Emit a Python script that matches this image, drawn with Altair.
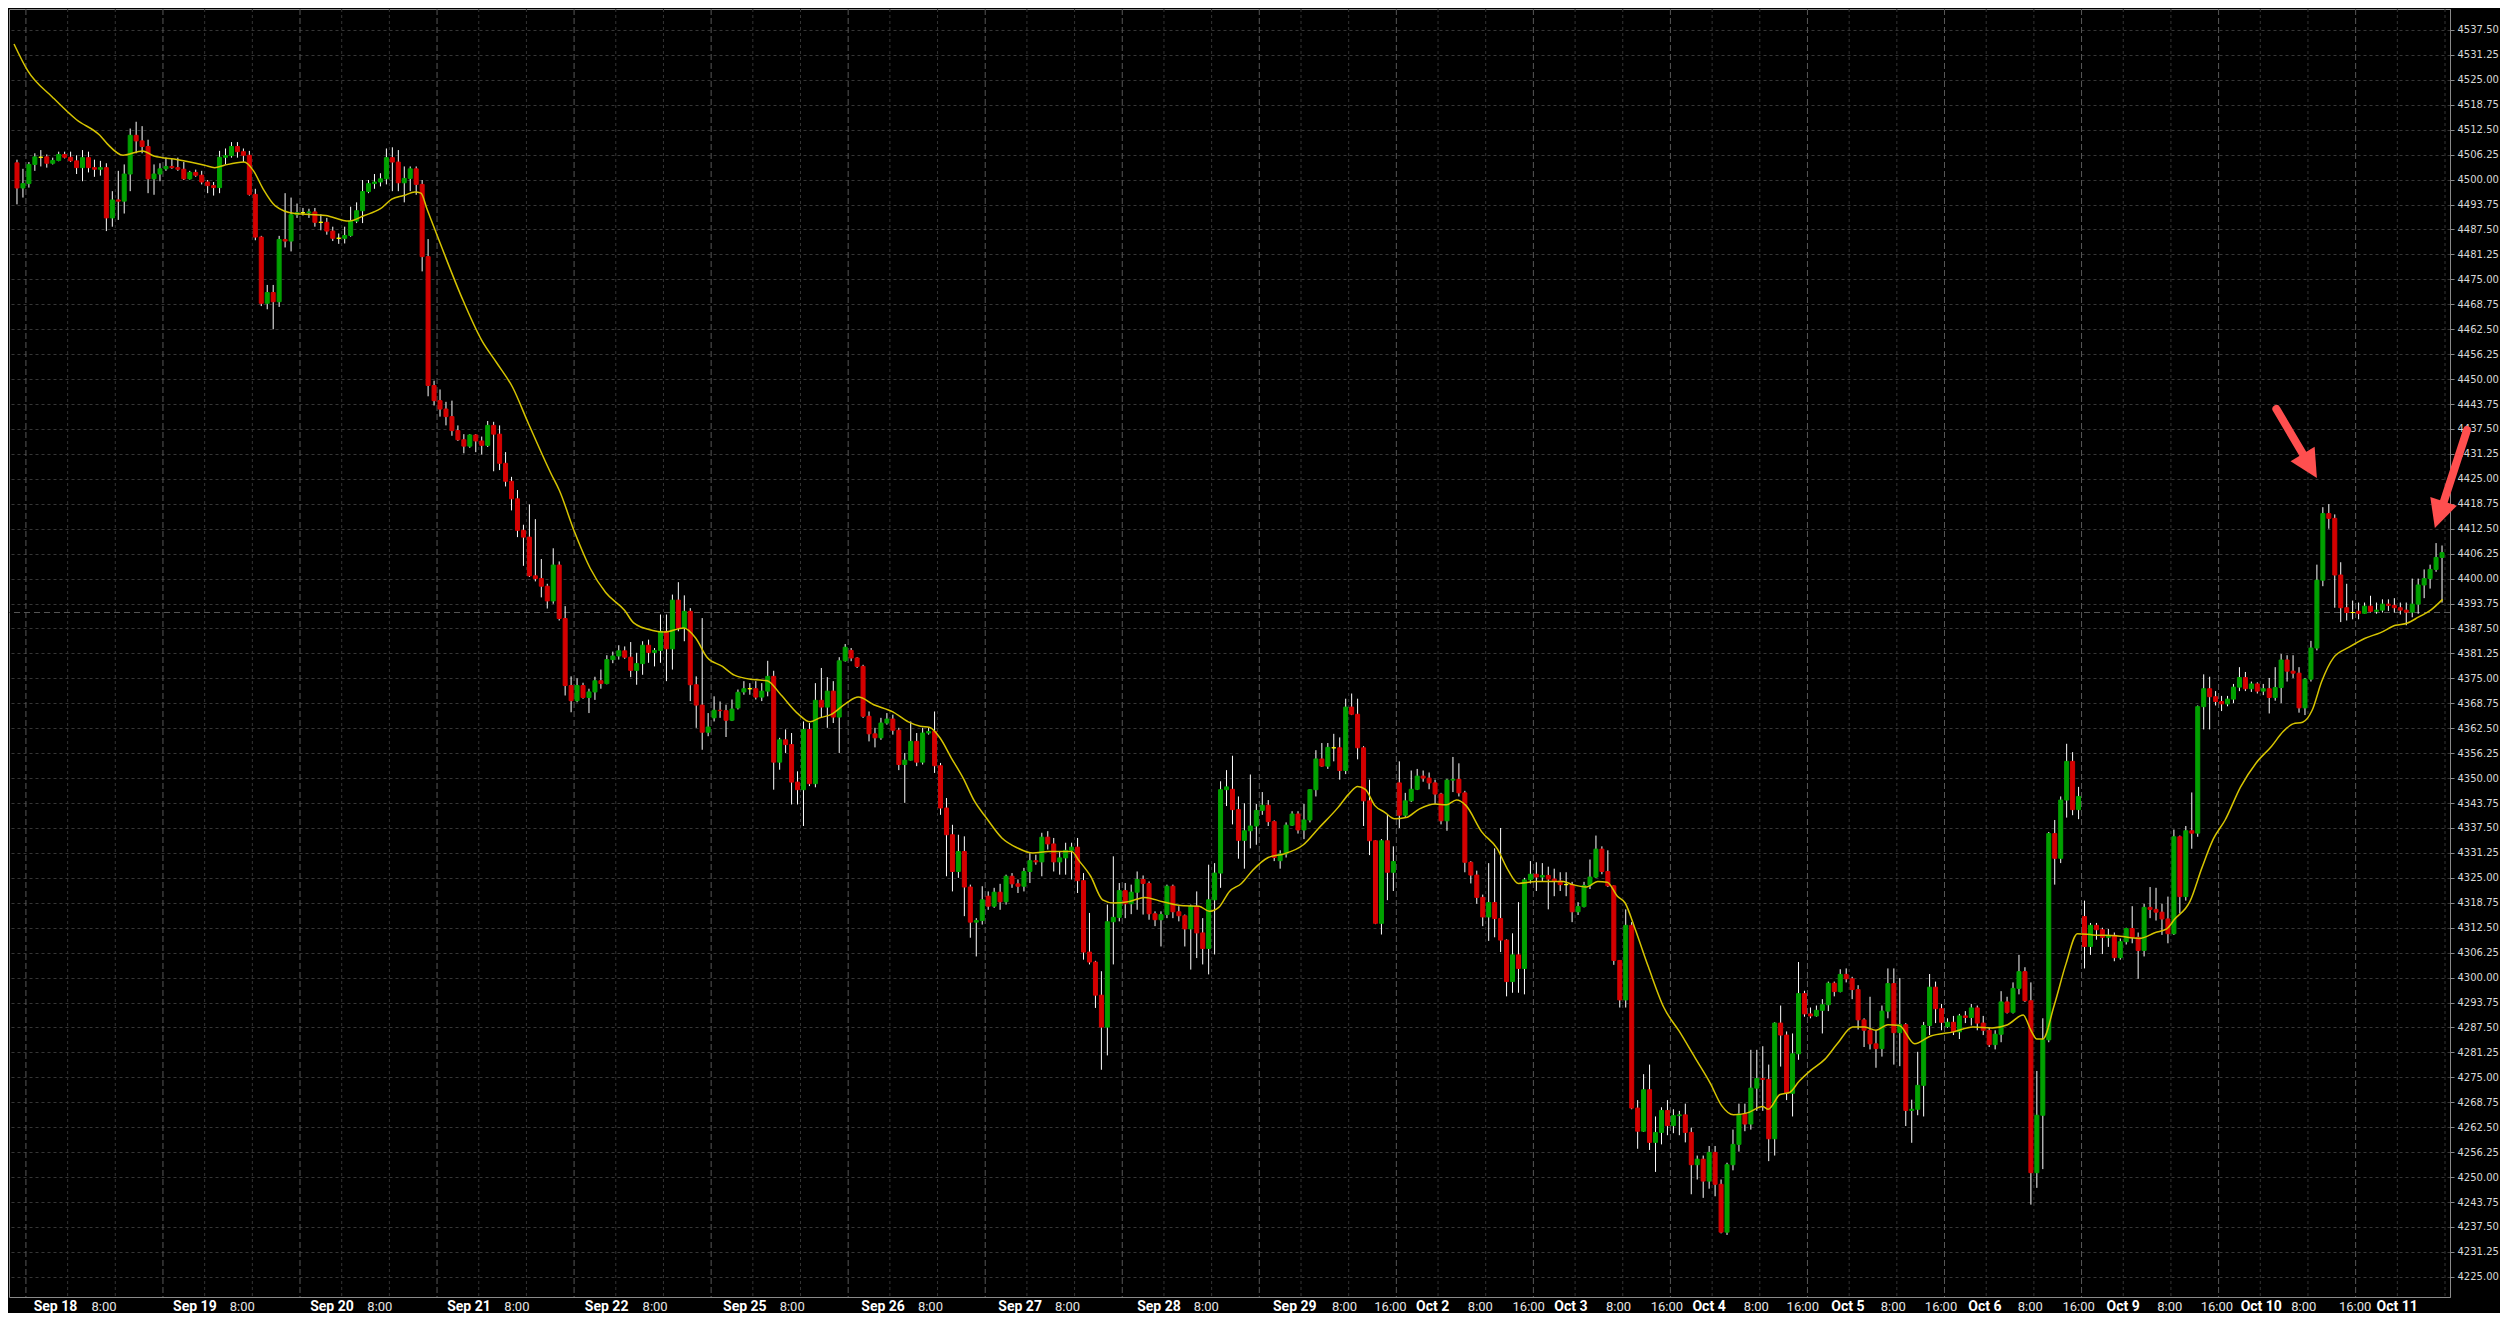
import altair as alt
import pandas as pd

# ---------------- data (hourly candles, index = candle slot) ----------------
OPEN = [
    4504.2, 4497.9, 4499.0, 4503.8, 4505.6, 4505.7, 4504.1, 4504.8, 4506.3, 4505.6,
    4504.7, 4503.0, 4505.5, 4503.0, 4502.6, 4503.0, 4490.4, 4494.9, 4494.6, 4501.4,
    4511.1, 4509.7, 4508.3, 4500.2, 4501.4, 4502.7, 4503.3, 4503.0, 4502.6, 4500.2,
    4501.8, 4501.1, 4499.4, 4498.5, 4498.0, 4505.6, 4506.0, 4508.3, 4507.0, 4506.1,
    4496.3, 4485.6, 4469.0, 4471.7, 4469.4, 4485.0, 4484.6, 4491.2, 4491.7, 4491.7,
    4491.9, 4489.3, 4489.3, 4487.1, 4485.3, 4485.3, 4486.0, 4489.6, 4492.2, 4497.0,
    4499.0, 4499.4, 4500.2, 4505.5, 4504.4, 4499.2, 4500.3, 4502.7, 4498.8, 4480.7,
    4448.4, 4444.6, 4442.5, 4440.6, 4437.1, 4434.8, 4433.2, 4436.0, 4434.5, 4433.4,
    4438.4, 4436.2, 4428.9, 4424.4, 4420.0, 4412.1, 4410.4, 4400.7, 4400.0, 4398.1,
    4394.4, 4403.4, 4390.0, 4373.2, 4369.4, 4373.2, 4370.2, 4371.6, 4374.4, 4373.7,
    4379.7, 4380.6,
    4381.9, 4380.3, 4377.0, 4378.7, 4383.3, 4381.5, 4382.0, 4386.8, 4382.4, 4394.6,
    4387.6, 4391.8, 4373.4, 4368.3, 4361.5, 4365.1, 4367.0, 4366.9, 4364.5, 4367.6,
    4371.6, 4372.4, 4372.4, 4370.3, 4371.8, 4375.5, 4354.0, 4359.6, 4358.4, 4349.0,
    4347.1, 4362.2, 4348.6, 4369.5, 4367.8, 4371.8, 4365.3, 4379.4, 4382.0, 4380.1,
    4378.0, 4365.5, 4361.1, 4360.1, 4363.8, 4364.8, 4362.0, 4353.4, 4354.5, 4359.2,
    4354.0, 4361.3, 4361.7, 4353.1, 4342.5, 4335.8, 4326.6, 4331.6, 4322.7, 4313.9,
    4314.3, 4320.4, 4317.9, 4321.4, 4319.0, 4325.4, 4323.5, 4322.9, 4326.6, 4329.3,
    4329.0, 4335.2, 4333.5, 4329.0, 4330.0, 4331.9, 4332.7, 4324.3, 4306.4, 4303.9,
    4295.6, 4287.6, 4314.0, 4315.1, 4321.8, 4318.5, 4321.4, 4324.6, 4323.6, 4316.0,
    4314.5, 4315.8, 4322.9, 4316.5, 4315.5, 4312.2, 4317.9, 4311.2, 4307.3, 4319.5,
    4326.2, 4347.1,
    4347.2, 4342.1, 4334.4, 4336.8, 4338.0, 4341.9, 4343.2, 4339.1, 4329.3, 4331.0,
    4338.2, 4341.0, 4337.0, 4339.5, 4347.1, 4354.8, 4353.0, 4357.6, 4357.6, 4351.9,
    4367.8, 4366.0, 4357.6, 4344.3, 4334.3, 4313.6, 4334.3, 4326.4, 4348.8, 4340.7,
    4344.3, 4347.2, 4350.5, 4350.0, 4348.8, 4346.0, 4339.3, 4349.5, 4349.7, 4346.3,
    4328.9, 4325.7, 4320.1, 4315.2, 4318.8, 4314.8, 4309.4, 4299.0, 4305.7, 4302.3,
    4324.5, 4325.9, 4325.2, 4325.6, 4324.7, 4324.2, 4323.3, 4323.3, 4316.5, 4317.8,
    4323.1, 4325.2, 4332.2, 4326.6, 4323.0, 4304.3, 4294.4, 4313.1, 4267.3, 4261.5,
    4271.9, 4258.7, 4261.2, 4266.7, 4262.9, 4265.4, 4265.6, 4261.2, 4253.1, 4254.5,
    4249.0, 4256.2, 4248.2, 4236.2, 4253.1, 4258.2, 4265.8, 4263.3, 4272.3, 4274.7,
    4274.5, 4259.6, 4288.6, 4285.6, 4271.0, 4280.9, 4296.0, 4290.9, 4290.4, 4291.8,
    4293.2, 4298.6,
    4296.5, 4300.8, 4299.7, 4297.0, 4289.4, 4286.8, 4283.4, 4282.2, 4291.6, 4298.5,
    4286.2, 4288.2, 4266.7, 4267.0, 4273.0, 4288.0, 4297.6, 4292.2, 4287.7, 4288.8,
    4286.4, 4290.4, 4290.0, 4292.4, 4288.6, 4286.8, 4283.2, 4285.8, 4293.9, 4291.3,
    4297.3, 4301.5, 4294.2, 4251.1, 4265.5, 4284.4, 4336.1, 4329.9, 4344.5, 4354.2,
    4342.1, 4315.3, 4307.8, 4313.1, 4312.0, 4310.1, 4310.6, 4305.0, 4309.0, 4312.3,
    4310.1, 4306.8, 4317.6, 4317.1, 4316.4, 4314.7, 4311.0, 4335.3, 4320.3, 4336.8,
    4336.2, 4367.9, 4372.4, 4370.4, 4369.2, 4368.6, 4369.8, 4372.8, 4375.2, 4372.4,
    4373.6, 4371.8, 4372.4, 4370.2, 4372.7, 4379.6, 4376.8, 4376.3, 4367.6, 4374.8,
    4382.6, 4399.6, 4416.3, 4415.1, 4400.9, 4392.7, 4391.5, 4391.8, 4391.3, 4393.1,
    4391.8, 4392.1, 4393.6, 4393.3, 4392.7, 4392.1, 4391.6, 4393.6, 4398.4, 4400.0,
    4402.3, 4405.3,
]

CLOSE = [
    4497.9, 4499.0, 4503.8, 4505.7, 4505.6, 4504.1, 4504.8, 4506.3, 4505.6, 4504.7,
    4503.0, 4505.5, 4503.0, 4502.6, 4503.0, 4490.4, 4494.9, 4494.6, 4501.4, 4511.1,
    4509.7, 4508.3, 4500.2, 4501.4, 4502.7, 4503.3, 4503.0, 4502.6, 4500.2, 4501.8,
    4501.1, 4499.4, 4498.5, 4498.0, 4505.6, 4506.0, 4508.3, 4507.0, 4506.1, 4496.3,
    4485.6, 4469.0, 4471.7, 4469.4, 4485.0, 4484.6, 4491.2, 4491.7, 4491.7, 4491.9,
    4489.3, 4489.3, 4487.1, 4485.3, 4485.3, 4486.0, 4489.6, 4492.2, 4497.0, 4499.0,
    4499.4, 4500.2, 4505.5, 4504.4, 4499.2, 4500.3, 4502.7, 4498.8, 4480.7, 4448.4,
    4444.6, 4442.5, 4440.6, 4437.1, 4434.8, 4433.2, 4436.0, 4434.5, 4433.4, 4438.4,
    4436.2, 4428.9, 4424.4, 4420.0, 4412.1, 4410.4, 4400.7, 4400.0, 4398.1, 4394.4,
    4403.4, 4390.0, 4373.2, 4369.4, 4373.2, 4370.2, 4371.6, 4374.4, 4373.7, 4379.7,
    4380.6, 4381.9,
    4380.3, 4377.0, 4378.7, 4383.3, 4381.5, 4382.0, 4386.8, 4382.4, 4394.6, 4387.6,
    4391.8, 4373.4, 4368.3, 4361.5, 4362.8, 4367.0, 4366.9, 4364.5, 4367.3, 4371.5,
    4372.4, 4372.4, 4370.3, 4371.8, 4375.5, 4354.0, 4359.6, 4358.4, 4349.0, 4347.1,
    4362.2, 4348.6, 4369.5, 4367.8, 4371.8, 4365.3, 4379.4, 4382.8, 4380.1, 4378.0,
    4365.5, 4361.1, 4360.1, 4363.8, 4364.8, 4362.0, 4353.4, 4354.5, 4359.2, 4354.0,
    4361.3, 4361.7, 4353.1, 4342.5, 4335.8, 4326.6, 4331.6, 4322.7, 4313.9, 4314.3,
    4319.5, 4317.9, 4321.4, 4319.0, 4325.4, 4323.5, 4322.9, 4326.6, 4329.3, 4329.0,
    4335.2, 4333.5, 4329.0, 4330.0, 4331.9, 4332.7, 4324.3, 4306.4, 4303.9, 4295.6,
    4287.6, 4314.0, 4315.1, 4321.8, 4318.5, 4321.4, 4324.6, 4323.6, 4316.0, 4314.5,
    4315.8, 4322.9, 4316.5, 4315.5, 4312.2, 4317.9, 4311.2, 4307.3, 4319.5, 4326.2,
    4347.1, 4347.8,
    4342.1, 4334.4, 4336.8, 4338.0, 4341.9, 4343.2, 4339.1, 4330.1, 4331.0, 4338.2,
    4341.0, 4337.0, 4339.5, 4347.1, 4354.8, 4353.0, 4357.7, 4357.6, 4351.9, 4367.8,
    4366.0, 4357.6, 4344.3, 4334.3, 4313.6, 4334.3, 4326.4, 4329.1, 4340.7, 4344.3,
    4347.2, 4350.5, 4350.0, 4348.8, 4346.0, 4339.3, 4349.5, 4349.7, 4346.3, 4328.9,
    4325.7, 4320.1, 4315.2, 4318.8, 4314.8, 4309.4, 4299.0, 4305.7, 4302.3, 4324.5,
    4325.9, 4325.2, 4325.6, 4324.7, 4324.2, 4323.3, 4323.3, 4316.5, 4317.8, 4323.1,
    4325.2, 4332.2, 4326.6, 4323.0, 4304.3, 4294.4, 4313.1, 4267.3, 4261.5, 4271.9,
    4258.7, 4261.2, 4266.7, 4262.9, 4265.4, 4265.6, 4261.2, 4253.1, 4254.5, 4249.0,
    4256.2, 4248.2, 4236.2, 4253.1, 4258.2, 4265.8, 4263.3, 4272.3, 4274.7, 4274.5,
    4259.6, 4288.6, 4285.6, 4271.0, 4280.9, 4296.0, 4290.9, 4290.4, 4291.8, 4293.2,
    4298.6, 4296.5,
    4300.8, 4299.7, 4297.0, 4289.4, 4286.8, 4283.4, 4282.2, 4291.6, 4298.5, 4286.2,
    4288.2, 4266.7, 4267.0, 4273.0, 4288.0, 4297.6, 4292.2, 4288.8, 4288.8, 4286.4,
    4290.4, 4290.0, 4292.4, 4288.6, 4286.8, 4283.2, 4285.8, 4293.9, 4291.3, 4297.3,
    4301.5, 4294.2, 4251.1, 4265.5, 4284.4, 4336.1, 4329.9, 4344.5, 4354.2, 4342.1,
    4345.4, 4307.8, 4313.1, 4312.0, 4310.1, 4310.6, 4305.0, 4309.0, 4312.3, 4310.1,
    4306.8, 4317.6, 4317.1, 4316.4, 4314.7, 4311.0, 4335.3, 4320.3, 4336.8, 4336.2,
    4367.9, 4372.4, 4370.4, 4369.2, 4368.6, 4369.8, 4372.8, 4375.2, 4372.4, 4373.6,
    4371.8, 4372.4, 4370.2, 4372.7, 4379.6, 4376.8, 4376.3, 4367.6, 4374.8, 4382.6,
    4399.6, 4416.3, 4415.1, 4400.9, 4392.7, 4391.5, 4391.5, 4391.3, 4393.1, 4391.8,
    4392.1, 4393.6, 4393.3, 4392.7, 4392.1, 4391.6, 4393.6, 4398.4, 4400.0, 4402.3,
    4405.3, 4406.5,
]

HIGH = [
    4505.0, 4502.7, 4504.4, 4506.6, 4507.4, 4506.3, 4505.5, 4507.0, 4507.0, 4507.0,
    4506.1, 4507.4, 4507.0, 4505.0, 4504.7, 4504.1, 4497.1, 4502.2, 4503.8, 4512.8,
    4514.5, 4513.4, 4510.0, 4503.8, 4504.1, 4505.5, 4505.2, 4505.5, 4504.4, 4502.2,
    4502.5, 4502.2, 4499.9, 4499.4, 4507.2, 4507.8, 4509.4, 4509.4, 4507.8, 4507.2,
    4497.7, 4485.9, 4473.6, 4473.6, 4485.9, 4496.6, 4495.5, 4494.0, 4492.9, 4492.7,
    4492.9, 4491.3, 4490.4, 4488.2, 4486.5, 4488.2, 4493.2, 4494.3, 4499.9, 4499.9,
    4501.4, 4501.6, 4507.8, 4508.1, 4507.4, 4503.3, 4503.3, 4503.3, 4499.9, 4485.1,
    4449.6, 4447.4, 4444.3, 4444.6, 4438.4, 4436.2, 4436.2, 4436.2, 4435.6, 4439.5,
    4439.3, 4438.4, 4431.7, 4425.5, 4422.2, 4413.5, 4418.6, 4414.9, 4404.9, 4398.7,
    4407.6, 4404.3, 4393.1, 4375.5, 4375.0, 4373.9, 4372.4, 4375.4, 4377.2, 4380.8,
    4381.7, 4383.3,
    4383.0, 4384.1, 4381.4, 4384.3, 4384.7, 4382.6, 4391.0, 4391.0, 4396.0, 4399.1,
    4395.8, 4392.6, 4375.5, 4390.1, 4366.3, 4370.5, 4369.2, 4368.4, 4369.7, 4372.2,
    4374.3, 4373.8, 4374.3, 4373.8, 4379.4, 4376.9, 4360.1, 4362.2, 4361.3, 4351.7,
    4364.2, 4363.8, 4373.8, 4377.6, 4375.3, 4374.3, 4380.3, 4383.6, 4382.6, 4380.3,
    4378.4, 4366.7, 4362.6, 4365.1, 4366.3, 4365.9, 4362.6, 4356.3, 4364.2, 4361.3,
    4362.6, 4362.6, 4366.7, 4353.8, 4345.0, 4338.3, 4335.8, 4335.4, 4323.3, 4314.9,
    4322.9, 4321.6, 4322.5, 4323.5, 4325.8, 4326.2, 4324.6, 4327.5, 4331.2, 4330.8,
    4336.3, 4336.7, 4335.0, 4331.7, 4333.8, 4333.8, 4335.0, 4326.2, 4316.2, 4304.2,
    4301.6, 4318.3, 4330.4, 4323.7, 4323.7, 4323.3, 4326.6, 4325.6, 4324.1, 4316.6,
    4316.6, 4323.3, 4323.3, 4317.9, 4315.8, 4318.3, 4321.6, 4314.9, 4328.3, 4328.7,
    4349.2, 4352.0,
    4355.6, 4345.4, 4343.7, 4350.9, 4343.5, 4346.5, 4344.5, 4339.4, 4331.9, 4338.9,
    4341.7, 4341.7, 4343.5, 4347.2, 4357.0, 4358.8, 4358.8, 4361.1, 4360.2, 4369.9,
    4371.2, 4369.9, 4358.0, 4349.6, 4334.4, 4334.7, 4340.8, 4332.9, 4354.2, 4346.3,
    4351.9, 4352.3, 4351.9, 4351.4, 4349.6, 4346.3, 4349.8, 4355.3, 4353.7, 4346.8,
    4329.2, 4326.8, 4320.8, 4328.7, 4332.4, 4337.5, 4309.6, 4311.1, 4318.9, 4325.0,
    4329.2, 4328.9, 4328.7, 4327.8, 4327.3, 4326.4, 4326.4, 4324.0, 4318.9, 4324.0,
    4329.6, 4335.6, 4332.9, 4331.9, 4323.1, 4304.4, 4317.1, 4313.9, 4269.3, 4275.8,
    4278.2, 4265.2, 4267.5, 4269.3, 4267.0, 4266.6, 4268.4, 4262.4, 4255.4, 4255.4,
    4257.8, 4257.8, 4249.4, 4253.6, 4261.9, 4268.4, 4268.4, 4281.9, 4281.9, 4282.8,
    4278.2, 4288.8, 4293.0, 4286.5, 4286.0, 4303.9, 4296.7, 4292.5, 4293.0, 4294.6,
    4299.0, 4299.0,
    4302.1, 4302.3, 4300.2, 4298.1, 4289.8, 4295.2, 4286.8, 4293.0, 4302.3, 4302.3,
    4299.9, 4288.6, 4269.4, 4281.4, 4288.9, 4300.9, 4299.0, 4293.4, 4289.8, 4290.4,
    4290.9, 4291.6, 4293.4, 4293.0, 4290.4, 4287.4, 4286.8, 4296.6, 4295.2, 4298.8,
    4305.7, 4302.6, 4298.8, 4276.6, 4289.8, 4336.5, 4339.5, 4345.4, 4358.6, 4356.5,
    4347.8, 4319.3, 4313.7, 4313.7, 4312.5, 4312.2, 4311.3, 4309.8, 4312.5, 4317.9,
    4311.3, 4318.5, 4322.7, 4322.5, 4318.5, 4320.3, 4337.1, 4335.6, 4338.0, 4346.4,
    4368.2, 4376.0, 4375.4, 4371.8, 4370.6, 4370.6, 4373.6, 4377.8, 4376.6, 4374.2,
    4374.0, 4373.6, 4375.1, 4377.8, 4381.1, 4380.8, 4380.8, 4377.8, 4375.1, 4384.4,
    4403.5, 4417.9, 4418.7, 4416.1, 4404.1, 4398.7, 4394.5, 4394.0, 4394.0, 4395.7,
    4394.0, 4394.8, 4394.8, 4395.1, 4394.0, 4394.0, 4400.0, 4400.0, 4402.3, 4403.5,
    4408.9, 4408.3,
]

LOW = [
    4493.8, 4495.5, 4498.0, 4502.2, 4503.3, 4503.0, 4503.8, 4504.6, 4505.3, 4504.4,
    4501.4, 4499.6, 4501.8, 4500.7, 4501.0, 4487.1, 4488.2, 4489.9, 4491.5, 4497.1,
    4506.6, 4506.6, 4496.6, 4496.2, 4499.6, 4502.2, 4502.7, 4502.2, 4499.9, 4500.0,
    4500.7, 4498.8, 4496.6, 4496.0, 4496.6, 4503.8, 4505.5, 4505.5, 4504.4, 4496.0,
    4484.8, 4468.3, 4467.5, 4462.5, 4468.1, 4483.0, 4482.0, 4490.4, 4491.0, 4490.4,
    4488.2, 4487.3, 4486.2, 4484.6, 4483.9, 4484.0, 4485.7, 4489.1, 4489.1, 4496.6,
    4497.7, 4498.3, 4498.8, 4497.1, 4497.1, 4494.3, 4497.1, 4496.2, 4477.0, 4445.7,
    4443.4, 4440.6, 4438.4, 4435.8, 4434.5, 4431.4, 4432.8, 4431.7, 4431.1, 4433.0,
    4426.9, 4427.2, 4423.1, 4417.1, 4410.4, 4403.2, 4400.4, 4399.3, 4395.3, 4392.5,
    4393.7, 4389.5, 4370.7, 4366.5, 4369.0, 4369.9, 4366.3, 4369.6, 4372.4, 4373.5,
    4378.8, 4379.7,
    4379.9, 4375.3, 4373.4, 4375.9, 4378.9, 4378.0, 4378.9, 4374.3, 4377.2, 4386.8,
    4384.3, 4369.3, 4362.6, 4357.1, 4360.5, 4364.2, 4365.1, 4360.3, 4364.3, 4367.2,
    4370.9, 4370.9, 4369.7, 4369.3, 4370.5, 4347.1, 4352.1, 4356.3, 4343.4, 4343.4,
    4338.0, 4348.0, 4347.7, 4365.1, 4362.6, 4363.8, 4356.3, 4379.2, 4379.3, 4377.6,
    4365.1, 4359.2, 4357.7, 4359.6, 4363.4, 4360.9, 4352.0, 4343.8, 4354.4, 4353.0,
    4353.4, 4360.9, 4351.3, 4340.8, 4325.4, 4321.6, 4325.0, 4315.4, 4310.0, 4305.3,
    4313.3, 4317.0, 4317.5, 4317.0, 4318.3, 4322.5, 4321.2, 4321.6, 4323.7, 4328.3,
    4325.4, 4332.1, 4326.6, 4325.8, 4325.8, 4324.6, 4321.2, 4304.5, 4303.3, 4292.4,
    4276.9, 4280.5, 4303.3, 4314.1, 4314.9, 4315.9, 4317.0, 4315.8, 4314.5, 4312.9,
    4307.8, 4314.9, 4314.9, 4314.1, 4307.8, 4302.0, 4304.9, 4303.3, 4300.8, 4305.8,
    4322.5, 4343.0,
    4338.4, 4329.8, 4327.3, 4332.4, 4333.3, 4340.8, 4338.0, 4329.2, 4327.3, 4330.1,
    4338.0, 4336.1, 4334.7, 4338.9, 4345.4, 4352.8, 4352.3, 4354.2, 4349.6, 4351.0,
    4365.8, 4354.7, 4338.0, 4330.7, 4313.4, 4310.8, 4319.4, 4321.7, 4337.5, 4340.3,
    4344.0, 4347.0, 4349.1, 4347.2, 4343.5, 4338.4, 4336.8, 4346.5, 4345.4, 4326.4,
    4323.6, 4318.5, 4312.9, 4309.2, 4310.1, 4306.4, 4295.3, 4296.2, 4296.2, 4295.8,
    4323.6, 4321.7, 4324.1, 4317.1, 4320.4, 4321.7, 4320.4, 4313.9, 4315.7, 4317.6,
    4322.2, 4325.0, 4325.9, 4322.7, 4303.2, 4292.5, 4292.5, 4267.0, 4257.1, 4261.3,
    4256.8, 4251.3, 4258.2, 4260.5, 4261.0, 4260.5, 4258.7, 4245.7, 4249.4, 4244.8,
    4247.1, 4245.2, 4235.9, 4235.5, 4251.7, 4256.4, 4261.5, 4261.9, 4266.6, 4266.6,
    4254.0, 4255.4, 4277.7, 4269.3, 4265.2, 4279.4, 4290.2, 4289.8, 4290.2, 4286.0,
    4291.6, 4295.3,
    4296.3, 4298.8, 4294.6, 4287.0, 4282.6, 4282.0, 4277.4, 4280.2, 4289.8, 4278.2,
    4277.8, 4262.8, 4258.6, 4265.5, 4265.2, 4285.6, 4288.6, 4286.8, 4287.4, 4285.6,
    4284.6, 4288.6, 4288.0, 4286.8, 4285.6, 4282.6, 4282.0, 4283.8, 4291.0, 4291.0,
    4295.8, 4293.9, 4243.1, 4247.3, 4252.0, 4283.8, 4323.3, 4328.7, 4340.1, 4340.7,
    4339.7, 4302.3, 4305.7, 4309.5, 4305.9, 4307.7, 4304.1, 4304.5, 4308.3, 4308.6,
    4299.7, 4305.3, 4314.9, 4314.3, 4310.7, 4308.6, 4310.7, 4316.1, 4319.3, 4332.3,
    4335.3, 4362.2, 4362.2, 4368.2, 4366.8, 4368.0, 4368.8, 4371.8, 4371.8, 4371.6,
    4371.2, 4370.8, 4366.2, 4369.4, 4368.8, 4374.2, 4375.1, 4366.4, 4365.8, 4374.2,
    4382.0, 4398.1, 4412.5, 4392.7, 4389.1, 4389.5, 4389.8, 4389.8, 4391.2, 4391.5,
    4391.2, 4391.5, 4391.9, 4391.5, 4391.0, 4388.3, 4390.3, 4391.2, 4395.1, 4397.5,
    4401.7, 4394.0,
]

# moving average (yellow line), read at points along the line: candle slot, price
MA_X = [-0.5, 1.8, 6, 10, 13.9, 15.2, 17.8, 21.1, 23, 27, 31.5, 33.2, 34.8, 38.1, 39.7, 41.3, 43.3,
        46.6, 51.8, 55.7, 58.3, 61, 62.9, 64.9, 66.8, 67.8, 68.8, 71.4, 74.7, 78, 80.5, 83.2, 85.8,
        89.7, 91, 93.6, 96.2, 98.8, 102,
        103.5, 106.7, 108.7, 111.9, 113.9, 115.8, 118.4, 120.4, 123.6, 125.9, 128.2, 131.1, 133.1,
        134.7, 136.6, 139.2, 141.2, 143.8, 147.0, 149.6, 151.6, 153.2, 154.9, 156.8, 158.8, 160.7,
        162.7, 165.3, 167.9, 170.5, 173.1, 177, 178.3, 180.2, 182.2, 184.1, 186.7, 189.3, 192.3,
        195.8, 198.4, 200.1, 201.7, 203.5,
        205.5, 207.4, 210, 212.6, 215.9, 218.5, 221.7, 223.7, 225, 226.3, 227.9, 229.5, 231.2,
        233.1, 235.4, 238, 239.9, 241.6, 243.2, 245.8, 248.4, 250.3, 252, 254.9, 259.5, 261.1,
        263.4, 265.3, 266.9, 268.6, 269.9, 271.5, 273.8, 276.4, 279, 281.6, 284.2, 286.1, 288.1,
        290.4, 293, 293.9, 295.9, 297.5, 299.1, 301.1, 303.4, 305.5,
        308.1, 310.1, 312, 314, 315.9, 318.5, 321.1, 325, 328.3, 331.5, 334.1, 336.7, 338, 339,
        340, 341.9, 343.9, 345.8, 348.4, 352.3, 356.2, 358.9, 360.8, 362.1, 364.7, 366.7, 368.6,
        370.6, 373.2, 375.8, 378.4, 380.3, 382, 383.6, 385.2, 386.8, 388.8, 391.4, 394, 396.6,
        399.2, 401.1, 403.1, 405.1, 407.1]
MA_Y = [4534.0, 4527.3, 4520.6, 4515.0, 4511.1, 4508.9, 4506.1, 4507.2, 4505.9, 4505.0, 4503.6,
        4503.0, 4503.6, 4504.4, 4502.2, 4497.7, 4493.5, 4491.5, 4491.0, 4489.6, 4491.0, 4492.7,
        4495.1, 4496.0, 4496.9, 4496.6, 4492.7, 4482.6, 4470.3, 4459.7, 4454.1, 4447.9, 4439.0,
        4426.1, 4422.2, 4411.6, 4402.6, 4396.5, 4392.0,
        4388.9, 4387.0, 4386.6, 4387.6, 4385.1, 4380.3, 4378.0, 4375.8, 4374.7, 4374.4, 4370.9,
        4366.1, 4364.1, 4365.1, 4365.9, 4368.8, 4370.3, 4368.4, 4366.6, 4364.1, 4363.0, 4362.7,
        4360.1, 4355.1, 4350.0, 4344.2, 4340.0, 4335.0, 4332.5, 4331.2, 4331.6, 4331.6, 4329.2,
        4325.4, 4319.5, 4318.7, 4319.1, 4320.1, 4319.0, 4318.0, 4317.9, 4316.6, 4317.6, 4321.6,
        4323.6, 4326.9, 4330.1, 4331.0, 4333.3, 4337.5, 4342.6, 4346.3, 4347.9, 4347.2, 4343.1,
        4341.5, 4339.8, 4340.1, 4342.3, 4343.5, 4343.3, 4344.5, 4343.1, 4336.6, 4332.4, 4326.8,
        4323.6, 4324.1, 4324.1, 4323.3, 4322.7, 4324.1, 4323.9, 4320.4, 4318.7, 4312.5, 4302.7,
        4292.5, 4286.5, 4280.0, 4273.5, 4267.9, 4265.6, 4266.1, 4267.7, 4267.0, 4270.7, 4271.2,
        4274.0, 4276.8, 4279.5, 4283.4,
        4287.6, 4287.6, 4286.8, 4288.2, 4288.0, 4283.4, 4285.3, 4286.4, 4287.6, 4287.4, 4288.2,
        4290.6, 4286.8, 4284.6, 4284.6, 4293.0, 4303.5, 4311.0, 4310.7, 4310.5, 4309.8, 4311.3,
        4312.2, 4314.6, 4319.1, 4327.5, 4334.7, 4339.5, 4347.8, 4353.8, 4358.0, 4361.6, 4363.6,
        4364.0, 4367.0, 4374.2, 4380.2, 4382.8, 4385.0, 4386.4, 4388.3, 4388.8, 4390.4, 4392.1,
        4394.8]

# x-axis labels (left edge of each label, in candle slots)
DAY_TEXT = ["Sep 18", "Sep 19", "Sep 20", "Sep 21", "Sep 22", "Sep 25", "Sep 26", "Sep 27",
            "Sep 28", "Sep 29", "Oct 2", "Oct 3", "Oct 4", "Oct 5", "Oct 6", "Oct 9", "Oct 10",
            "Oct 11"]
DAY_POS = [2.8, 26.2, 49.2, 72.2, 95.3, 118.5, 141.7, 164.7, 188.0, 210.8, 234.8, 258.0, 281.2,
           304.5, 327.5, 350.7, 373.2, 396.0]
HOUR_TEXT = ["8:00", "8:00", "8:00", "8:00", "8:00", "8:00", "8:00", "8:00", "8:00", "8:00",
             "16:00", "8:00", "16:00", "8:00", "16:00", "8:00", "16:00", "8:00", "16:00",
             "8:00", "16:00", "8:00", "16:00", "8:00", "16:00"]
HOUR_POS = [12.5, 35.7, 58.8, 81.8, 105.0, 128.0, 151.2, 174.2, 197.5, 220.7, 227.8, 243.5,
            251.0, 266.7, 274.2, 289.8, 297.0, 312.8, 320.2, 335.8, 343.3, 359.2, 366.5, 381.7,
            389.7]

# y-axis tick labels
Y_TICKS = [4225 + 6.25 * k for k in range(51)]

# vertical grid: session separators and 8-hour separators (candle slots)
DAY_LINES = [1.5 + 23 * k for k in range(18)]
SUB_LINES = [8.5 + 23 * k for k in range(18)] + [16.5 + 23 * k for k in range(18)]
LEVEL_LINE = [4391.5]

# annotation arrows (tail, neck, tip in candle slot / price; heading in degrees)
ARROW_TAIL_X = [379.2, 411.2]
ARROW_TAIL_Y = [4442.5, 4437.25]
ARROW_NECK_X = [384.5, 406.8]
ARROW_NECK_Y = [4429.1, 4417.0]
ARROW_TIP_X = [386.0, 405.8]
ARROW_TIP_Y = [4425.2, 4412.7]
ARROW_ANGLE = [149.3, 198.1]

# ---------------- styling ----------------
# the page adds an 8px margin; the whole svg is kept within 2492 x 1307
W, H = 2441, 1288
PAD = {"left": 1, "right": 50, "top": 1, "bottom": 16}
GREEN, RED, YELLOW = "#00a000", "#d40000", "#ffff00"
MA_COLOR = "#d6c400"
ARROW_COLOR = "#ff4f4f"
LABEL_FONT = "Roboto, Liberation Sans, sans-serif"

n = min(len(OPEN), len(HIGH), len(LOW), len(CLOSE))
candles = pd.DataFrame({"i": list(range(n)), "o": OPEN[:n], "h": HIGH[:n], "l": LOW[:n], "c": CLOSE[:n]})
candles["dir"] = ["up" if c > o else ("down" if c < o else "flat") for o, c in zip(candles["o"], candles["c"])]

xs = alt.Scale(domain=[-0.5, 407.5], nice=False, zero=False)
ys = alt.Scale(domain=[4219.95, 4542.76], nice=False, zero=False)
dir_scale = alt.Scale(domain=["up", "down", "flat"], range=[GREEN, RED, YELLOW])

y_axis = alt.Axis(orient="right", values=Y_TICKS, format=".2f", title=None, grid=True,
                  gridColor="#363636", gridDash=[3, 3], gridWidth=1,
                  labelFont="DejaVu Sans", labelFontSize=10, labelColor="#d8d8d8",
                  tickColor="#8a8a8a", tickSize=4, domainColor="#8a8a8a", labelPadding=3,
                  labelFlush=False, labelOverlap=False)

sub_df = pd.DataFrame({"x": SUB_LINES})
day_df = pd.DataFrame({"x": DAY_LINES})
lvl_df = pd.DataFrame({"y": LEVEL_LINE})

sub_rules = alt.Chart(sub_df).mark_rule(color="#343434", strokeDash=[3, 3], strokeWidth=1).encode(
    x=alt.X("x:Q", scale=xs, axis=None))
day_rules = alt.Chart(day_df).mark_rule(color="#575757", strokeDash=[6, 3], strokeWidth=1).encode(
    x=alt.X("x:Q", scale=xs, axis=None))
lvl_rule = alt.Chart(lvl_df).mark_rule(color="#575757", strokeDash=[6, 4], strokeWidth=1).encode(
    y=alt.Y("y:Q", scale=ys, axis=y_axis))

wicks = alt.Chart(candles).mark_rule(color="#ffffff", strokeWidth=1).encode(
    x=alt.X("i:Q", scale=xs, axis=None),
    y=alt.Y("l:Q", scale=ys, axis=y_axis),
    y2="h:Q")

bodies = alt.Chart(candles).mark_bar(width=4, strokeWidth=1).encode(
    x=alt.X("i:Q", scale=xs, axis=None),
    y=alt.Y("o:Q", scale=ys, axis=y_axis),
    y2="c:Q",
    color=alt.Color("dir:N", scale=dir_scale, legend=None),
    stroke=alt.Stroke("dir:N", scale=dir_scale, legend=None))

m = min(len(MA_X), len(MA_Y))
ma_df = pd.DataFrame({"x": MA_X[:m], "y": MA_Y[:m]})
ma_line = alt.Chart(ma_df).mark_line(color=MA_COLOR, strokeWidth=1.5, interpolate="monotone").encode(
    x=alt.X("x:Q", scale=xs, axis=None),
    y=alt.Y("y:Q", scale=ys, axis=y_axis))

arrow_df = pd.DataFrame({"tx": ARROW_TAIL_X, "ty": ARROW_TAIL_Y, "nx": ARROW_NECK_X, "ny": ARROW_NECK_Y,
                         "px": ARROW_TIP_X, "py": ARROW_TIP_Y, "a": ARROW_ANGLE})
shafts = alt.Chart(arrow_df).mark_rule(color=ARROW_COLOR, strokeWidth=8, strokeCap="round").encode(
    x=alt.X("tx:Q", scale=xs, axis=None), x2="nx:Q",
    y=alt.Y("ty:Q", scale=ys, axis=y_axis), y2="ny:Q")
heads = alt.Chart(arrow_df).mark_point(shape="M0,0L0.5,1L-0.5,1Z", size=3136, filled=True,
                                       opacity=1, color=ARROW_COLOR, strokeWidth=0).encode(
    x=alt.X("px:Q", scale=xs, axis=None),
    y=alt.Y("py:Q", scale=ys, axis=y_axis),
    angle=alt.Angle("a:Q", scale=None))

day_lbl_df = pd.DataFrame({"p": DAY_POS, "t": DAY_TEXT})
hour_lbl_df = pd.DataFrame({"p": HOUR_POS, "t": HOUR_TEXT})
day_labels = alt.Chart(day_lbl_df).mark_text(align="left", baseline="middle", font=LABEL_FONT, fontSize=14,
                                             fontWeight="bold", color="#ffffff").encode(
    x=alt.X("p:Q", scale=xs, axis=None), y=alt.value(H + 10), text="t:N")
hour_labels = alt.Chart(hour_lbl_df).mark_text(align="left", baseline="middle", font=LABEL_FONT, fontSize=13,
                                               color="#e6e6e6").encode(
    x=alt.X("p:Q", scale=xs, axis=None), y=alt.value(H + 10), text="t:N")

chart = alt.layer(
    sub_rules, day_rules, lvl_rule, wicks, bodies, ma_line, shafts, heads, day_labels, hour_labels
).properties(
    width=W, height=H, background="#000000",
    autosize=alt.AutoSizeParams(type="none"),
    padding=PAD
).configure_view(stroke="#8a8a8a", strokeWidth=1, fill="#000000")

chart.save("out.html", embed_options={"renderer": "svg", "actions": False})
